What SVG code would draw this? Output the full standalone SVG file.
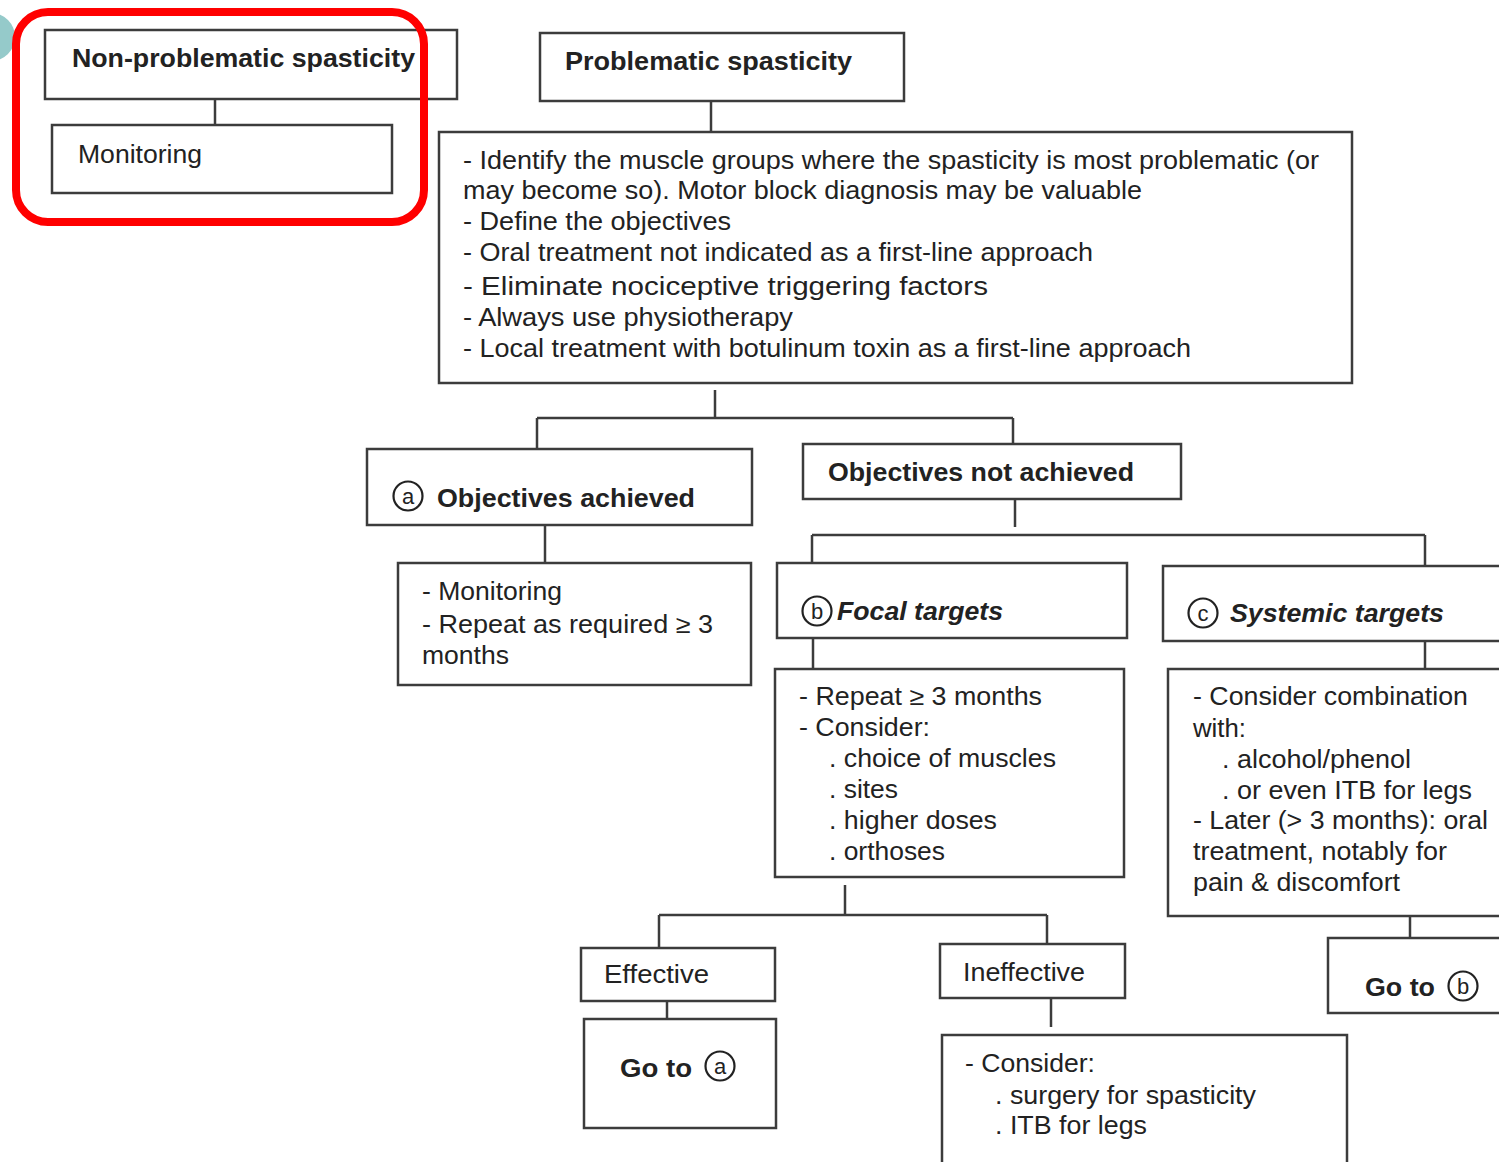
<svg xmlns="http://www.w3.org/2000/svg" width="1499" height="1162" viewBox="0 0 1499 1162">
<style>
.box{fill:#fff;stroke:#3c3c3c;stroke-width:2.5}
.ln{fill:none;stroke:#3c3c3c;stroke-width:2.5}
.t{font-family:"Liberation Sans",Arial,sans-serif;font-size:25px;fill:#222}
.b{font-weight:bold}
.i{font-style:italic;font-weight:bold}
.cc{fill:none;stroke:#222;stroke-width:2.2}
.cl{font-family:"Liberation Sans",Arial,sans-serif;font-size:22px;fill:#222;text-anchor:middle}
</style>
<rect width="1499" height="1162" fill="#fff"/>
<circle cx="-9" cy="37" r="24" fill="#95caca"/>

<g id="connectors">
<path class="ln" d="M215 99V125"/>
<path class="ln" d="M711 101V132"/>
<path class="ln" d="M715 390V418M537 418H1013M537 418V449M1013 418V444"/>
<path class="ln" d="M545 525V563"/>
<path class="ln" d="M1015 499V527M812 535H1425M812 535V563M1425 535V566"/>
<path class="ln" d="M813 638V669"/>
<path class="ln" d="M1425 641V668"/>
<path class="ln" d="M1410 906V938"/>
<path class="ln" d="M845 885V915M659 915H1047M659 915V948M1047 915V944"/>
<path class="ln" d="M667 1001V1019"/>
<path class="ln" d="M1051 998V1027"/>
</g>

<g id="non-problematic">
<rect class="box" x="45" y="30" width="412" height="69"/>
<text class="t b" x="72" y="67" textLength="343" lengthAdjust="spacingAndGlyphs">Non-problematic spasticity</text>
</g>
<g id="monitoring-top">
<rect class="box" x="52" y="125" width="340" height="68"/>
<text class="t" x="78" y="163" textLength="124" lengthAdjust="spacingAndGlyphs">Monitoring</text>
</g>

<g id="problematic">
<rect class="box" x="540" y="33" width="364" height="68"/>
<text class="t b" x="565" y="70" textLength="287" lengthAdjust="spacingAndGlyphs">Problematic spasticity</text>
</g>

<g id="actions">
<rect class="box" x="439" y="132" width="913" height="251"/>
<text class="t" x="463" y="169" textLength="856" lengthAdjust="spacingAndGlyphs">- Identify the muscle groups where the spasticity is most problematic (or</text>
<text class="t" x="463" y="199" textLength="679" lengthAdjust="spacingAndGlyphs">may become so).  Motor block diagnosis may be valuable</text>
<text class="t" x="463" y="230" textLength="268" lengthAdjust="spacingAndGlyphs">- Define the objectives</text>
<text class="t" x="463" y="261" textLength="630" lengthAdjust="spacingAndGlyphs">- Oral treatment not indicated as a first-line approach</text>
<text class="t" x="463" y="295" textLength="525" lengthAdjust="spacingAndGlyphs">- Eliminate  nociceptive triggering factors</text>
<text class="t" x="463" y="326" textLength="330" lengthAdjust="spacingAndGlyphs">- Always use physiotherapy</text>
<text class="t" x="463" y="357" textLength="728" lengthAdjust="spacingAndGlyphs">- Local treatment  with botulinum toxin as a first-line approach</text>
</g>

<g id="objectives-achieved">
<rect class="box" x="367" y="449" width="385" height="76"/>
<circle class="cc" cx="408" cy="496" r="14.5"/>
<text class="cl" x="408" y="504">a</text>
<text class="t b" x="437" y="507" textLength="258" lengthAdjust="spacingAndGlyphs">Objectives achieved</text>
</g>

<g id="monitoring-repeat">
<rect class="box" x="398" y="563" width="353" height="122"/>
<text class="t" x="422" y="600" textLength="140" lengthAdjust="spacingAndGlyphs">- Monitoring</text>
<text class="t" x="422" y="633" textLength="291" lengthAdjust="spacingAndGlyphs">- Repeat as required ≥ 3</text>
<text class="t" x="422" y="664" textLength="87" lengthAdjust="spacingAndGlyphs">months</text>
</g>

<g id="objectives-not-achieved">
<rect class="box" x="803" y="444" width="378" height="55"/>
<text class="t b" x="828" y="481" textLength="306" lengthAdjust="spacingAndGlyphs">Objectives not achieved</text>
</g>

<g id="focal-targets">
<rect class="box" x="777" y="563" width="350" height="75"/>
<circle class="cc" cx="817" cy="611" r="14.5"/>
<text class="cl" x="817" y="619">b</text>
<text class="t i" x="837" y="620" textLength="166" lengthAdjust="spacingAndGlyphs">Focal targets</text>
</g>

<g id="focal-actions">
<rect class="box" x="775" y="669" width="349" height="208"/>
<text class="t" x="799" y="705" textLength="243" lengthAdjust="spacingAndGlyphs">- Repeat ≥ 3 months</text>
<text class="t" x="799" y="736" textLength="131" lengthAdjust="spacingAndGlyphs">- Consider:</text>
<text class="t" x="829" y="767" textLength="227" lengthAdjust="spacingAndGlyphs">. choice of muscles</text>
<text class="t" x="829" y="798" textLength="69" lengthAdjust="spacingAndGlyphs">. sites</text>
<text class="t" x="829" y="829" textLength="168" lengthAdjust="spacingAndGlyphs">. higher doses</text>
<text class="t" x="829" y="860" textLength="116" lengthAdjust="spacingAndGlyphs">. orthoses</text>
</g>

<g id="systemic-targets">
<rect class="box" x="1163" y="566" width="345" height="75"/>
<circle class="cc" cx="1203" cy="613" r="14.5"/>
<text class="cl" x="1203" y="621">c</text>
<text class="t i" x="1230" y="622" textLength="214" lengthAdjust="spacingAndGlyphs">Systemic targets</text>
</g>

<g id="systemic-actions">
<rect class="box" x="1168" y="669" width="340" height="247"/>
<text class="t" x="1193" y="705" textLength="275" lengthAdjust="spacingAndGlyphs">- Consider combination</text>
<text class="t" x="1193" y="737" textLength="53" lengthAdjust="spacingAndGlyphs">with:</text>
<text class="t" x="1222" y="768" textLength="189" lengthAdjust="spacingAndGlyphs">. alcohol/phenol</text>
<text class="t" x="1222" y="799" textLength="250" lengthAdjust="spacingAndGlyphs">. or even ITB for legs</text>
<text class="t" x="1193" y="829" textLength="295" lengthAdjust="spacingAndGlyphs">- Later (&gt; 3 months): oral</text>
<text class="t" x="1193" y="860" textLength="254" lengthAdjust="spacingAndGlyphs">treatment, notably for</text>
<text class="t" x="1193" y="891" textLength="207" lengthAdjust="spacingAndGlyphs">pain &amp; discomfort</text>
</g>

<g id="goto-b">
<rect class="box" x="1328" y="938" width="180" height="75"/>
<text class="t b" x="1365" y="996" textLength="70" lengthAdjust="spacingAndGlyphs">Go to</text>
<circle class="cc" cx="1463" cy="986" r="14.5"/>
<text class="cl" x="1463" y="994">b</text>
</g>

<g id="effective">
<rect class="box" x="581" y="948" width="194" height="53"/>
<text class="t" x="604" y="983" textLength="105" lengthAdjust="spacingAndGlyphs">Effective</text>
</g>

<g id="goto-a">
<rect class="box" x="584" y="1019" width="192" height="109"/>
<text class="t b" x="620" y="1077" textLength="72" lengthAdjust="spacingAndGlyphs">Go to</text>
<circle class="cc" cx="720" cy="1066" r="14.5"/>
<text class="cl" x="720" y="1074">a</text>
</g>

<g id="ineffective">
<rect class="box" x="940" y="944" width="185" height="54"/>
<text class="t" x="963" y="981" textLength="122" lengthAdjust="spacingAndGlyphs">Ineffective</text>
</g>

<g id="consider-surgery">
<rect class="box" x="942" y="1035" width="405" height="140"/>
<text class="t" x="965" y="1072" textLength="130" lengthAdjust="spacingAndGlyphs">- Consider:</text>
<text class="t" x="995" y="1104" textLength="261" lengthAdjust="spacingAndGlyphs">. surgery for spasticity</text>
<text class="t" x="995" y="1134" textLength="152" lengthAdjust="spacingAndGlyphs">. ITB for legs</text>
</g>

<rect x="16" y="12" width="408" height="210" rx="32" ry="32" fill="none" stroke="#ff0000" stroke-width="8"/>
</svg>
